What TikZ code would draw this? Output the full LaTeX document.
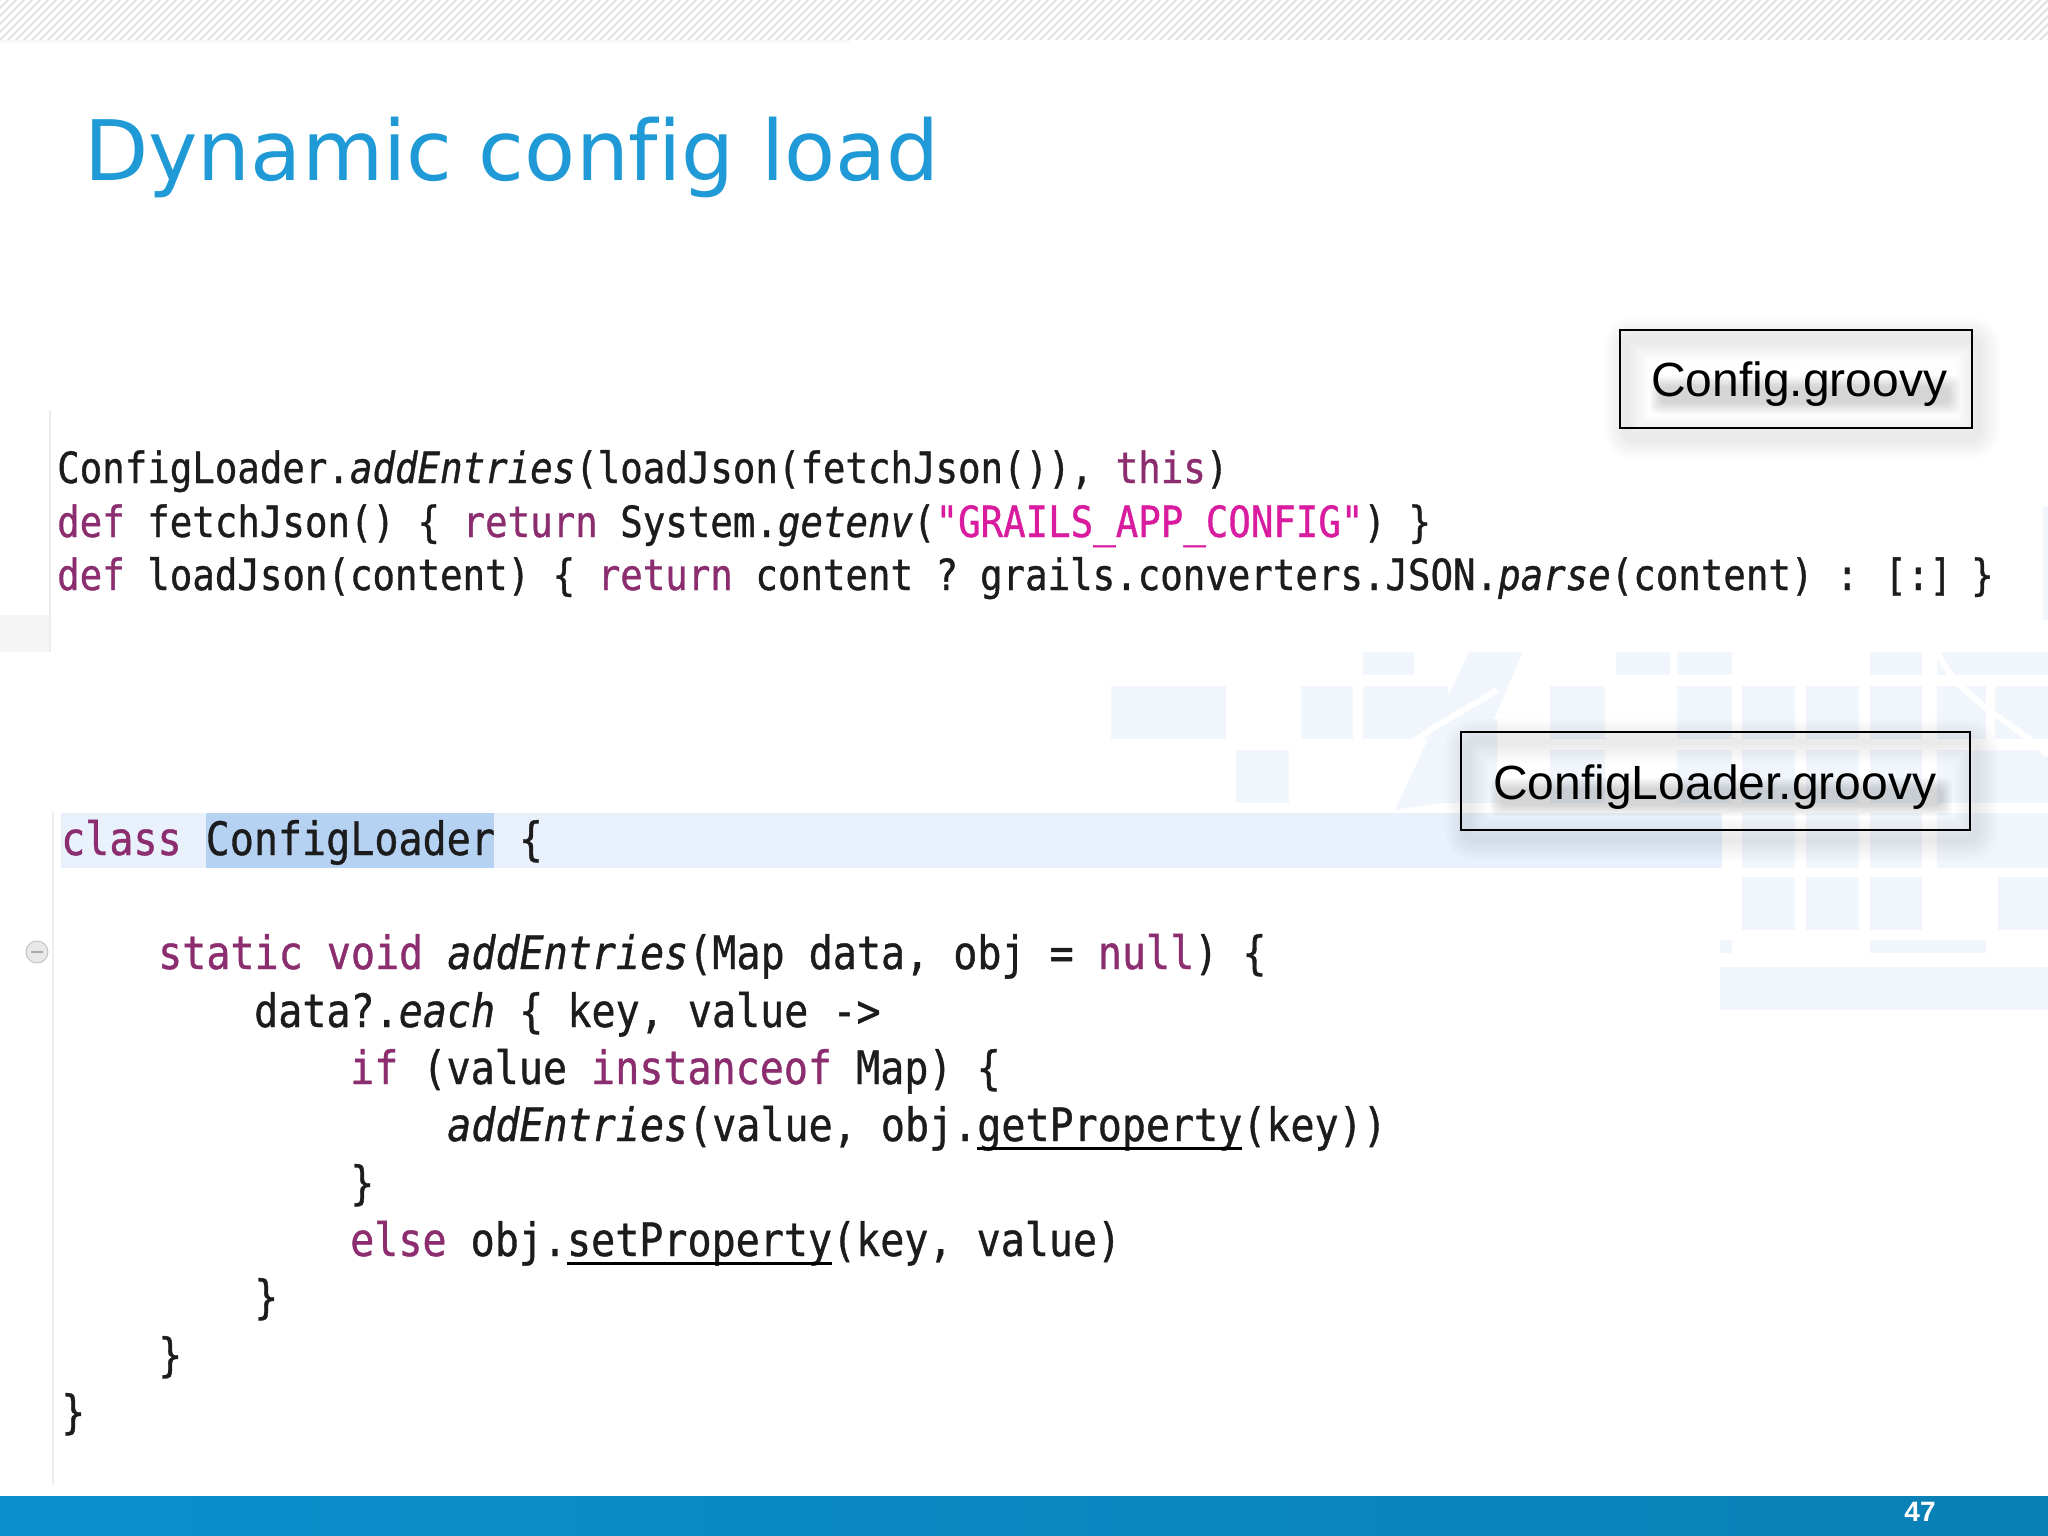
\documentclass[tikz,border=0pt]{standalone}
\usepackage{fontspec}
\usetikzlibrary{calc}
\setmainfont[Ligatures=NoCommon]{Liberation Sans}
\newfontfamily\titlefont[Ligatures=NoCommon]{DejaVu Sans}
\newfontfamily\codefont[FakeStretch=0.87,FakeBold=0.8]{DejaVu Sans Mono}
\definecolor{kw}{HTML}{8B2D6F}
\definecolor{strc}{HTML}{D81B9F}
\definecolor{txt}{HTML}{1C1C1C}
\definecolor{wm}{HTML}{F0F6FC}
\definecolor{band}{HTML}{E8F1FC}
\definecolor{wordhl}{HTML}{B5D2F3}
\definecolor{footL}{HTML}{0A90CC}
\definecolor{footR}{HTML}{0A80B5}
\definecolor{titleblue}{HTML}{1F9AD6}
\newcommand{\kwd}[1]{\textcolor{kw}{#1}}
\newcommand{\itl}[1]{{\itshape #1}}
\newsavebox{\ulbox}
\newcommand{\ul}[1]{\sbox{\ulbox}{#1}\rlap{\usebox{\ulbox}}\textcolor{black}{\rule[-9pt]{\wd\ulbox}{3.5pt}}}
\tikzset{
  x=1pt,y=-1pt,
  codeA/.style={anchor=base west,inner sep=0pt,text=txt,font=\codefont\fontsize{43}{43}\selectfont},
  codeB/.style={anchor=base west,inner sep=0pt,text=txt,font=\codefont\fontsize{46}{46}\selectfont},
  wmrect/.style={fill=wm,draw=none},
  labelbox/.style={draw=black,line width=1.8pt,fill=none},
  labeltext/.style={anchor=base west,inner sep=0pt,text=black,font=\fontsize{48}{48}\selectfont},
}
% soft shadow of an outline: x1 y1 x2 y2
\newcommand{\softshadow}[4]{%
  \foreach \g in {44,38,32,26,20,14,8}{
    \draw[black,opacity=0.012,line width=\g pt,rounded corners=8pt] ({#1+6},{#2+9}) rectangle ({#3+6},{#4+9});
  }
}
% soft shadow under a line of text: x1 y1 x2 y2
\newcommand{\softbar}[4]{%
  \foreach \g in {10,8,6,4,2,0}{
    \fill[black,opacity=0.028,rounded corners=7pt] ({#1-\g},{#2-\g}) rectangle ({#3+\g},{#4+\g});
  }
}
\begin{document}
\begin{tikzpicture}
\useasboundingbox (0,0) rectangle (2048,1536);
\fill[white] (0,0) rectangle (2048,1536);
\clip (0,0) rectangle (2048,1536);

% top hatched band
\begin{scope}
  \clip (0,0) rectangle (2048,40);
  \fill[gray!22] (0,0) rectangle (2048,40);
  \foreach \i in {-64,-56,...,2100}{
    \draw[white,line width=3.2pt] (\i,44) -- ({\i+50},-6);
  }
\end{scope}
\fill[gray!5] (0,40) rectangle (850,43);

% watermark
\foreach \a/\b/\c/\d in {
 1363/652/1414/675, 1616/652/1670/675, 1677/652/1732/675, 1870/652/1922/675, 1937/652/2048/675,
 1111/686/1226/739, 1301/686/1353/739, 1363/686/1448/739, 1550/686/1605/739,
 1677/686/1732/739, 1742/686/1795/739, 1806/686/1859/739, 1870/686/1922/739, 1937/686/1986/739, 1995/686/2048/739,
 1236/750/1289/803, 1550/750/1605/803, 1677/750/1732/803, 1742/750/1795/803, 1806/750/1859/803, 1870/750/1922/803, 1937/750/2048/803,
 1742/813/1795/868, 1806/813/1859/868, 1870/813/1922/868, 1937/813/2048/868,
 1742/877/1795/930, 1806/877/1859/930, 1870/877/1922/930, 1998/877/2048/930,
 1720/940/1732/953, 1870/940/1986/953, 1720/967/2048/1010, 2043/507/2048/620}
{
  \fill[wmrect] (\a,\b) rectangle (\c,\d);
}
\fill[wm] (1469,652) -- (1526,652) -- (1497,720) -- (1497,803) -- (1440,803) -- (1395,810) -- cycle;
\draw[white,line width=6pt] (1344,815) .. controls (1385,745) and (1460,715) .. (1497,690);
\draw[white,line width=6pt] (1526,652) -- (1497,720);
\draw[white,line width=6pt] (1937,652) .. controls (1960,700) and (2010,720) .. (2048,755);

% title
\node[anchor=base west,inner sep=0pt,text=titleblue,font=\titlefont\fontsize{83.5}{83.5}\selectfont] (title) at (84,180) {Dynamic config load};

% code panes
\fill[gray!8] (0,615) rectangle (50,652);
\draw[gray!14,line width=1.5pt] (50,410) -- (50,652);
\draw[gray!14,line width=1.5pt] (53,812) -- (53,1485);
\fill[band] (61,813) rectangle (1722,868);
\fill[wordhl] (206,813) rectangle (494,868);
\filldraw[fill=gray!18,draw=gray!45,line width=1pt] (37,952) circle (11);
\draw[gray!65,line width=1.5pt] (31,952) -- (43,952);

% upper code
\node[codeA] (a1) at (57,483) {ConfigLoader.\itl{addEntries}(loadJson(fetchJson()), \kwd{this})};
\node[codeA] (a2) at (57,537) {\kwd{def} fetchJson() \{ \kwd{return} System.\itl{getenv}(\textcolor{strc}{"GRAILS\_APP\_CONFIG"}) \}};
\node[codeA] (a3) at (57,590) {\kwd{def} loadJson(content) \{ \kwd{return} content ? \hspace{-8pt}grails.converters.JSON.\itl{parse}(content) : \hspace{-4pt}[:] \hspace{-11pt}\}};

% lower code
\node[codeB] (b1) at (61,855) {\kwd{class} ConfigLoader \{};
\node[codeB] (b2) at (158,969) {\kwd{static} \kwd{void} \itl{addEntries}(Map data, obj = \kwd{null}) \{};
\node[codeB] (b3) at (254,1027) {data?.\itl{each} \{ key, value ->};
\node[codeB] (b4) at (350,1084) {\kwd{if} (value \kwd{instanceof} Map) \{};
\node[codeB] (b5) at (447,1141) {\itl{addEntries}(value, obj.\ul{getProperty}(key))};
\node[codeB] (b6) at (350,1199) {\}};
\node[codeB] (b7) at (350,1256) {\kwd{else} obj.\ul{setProperty}(key, value)};
\node[codeB] (b8) at (254,1313) {\}};
\node[codeB] (b9) at (158,1371) {\}};
\node[codeB] (b10) at (61,1428) {\}};

% label boxes
\softshadow{1620}{330}{1972}{428}
\softbar{1660}{386}{1950}{404}
\draw[labelbox] (1620,330) rectangle (1972,428);
\node[labeltext] (c1) at (1651,396) {Config.groovy};

\softshadow{1461}{732}{1970}{830}
\softbar{1500}{788}{1942}{806}
\draw[labelbox] (1461,732) rectangle (1970,830);
\node[labeltext] (c2) at (1493,799) {ConfigLoader.groovy};

% bottom band
\shade[left color=footL,right color=footR] (0,1496) rectangle (2048,1536);
\node[anchor=base,inner sep=0pt,text=white,font=\bfseries\fontsize{28}{28}\selectfont] (page) at (1920,1521) {47};
\end{tikzpicture}
\end{document}
